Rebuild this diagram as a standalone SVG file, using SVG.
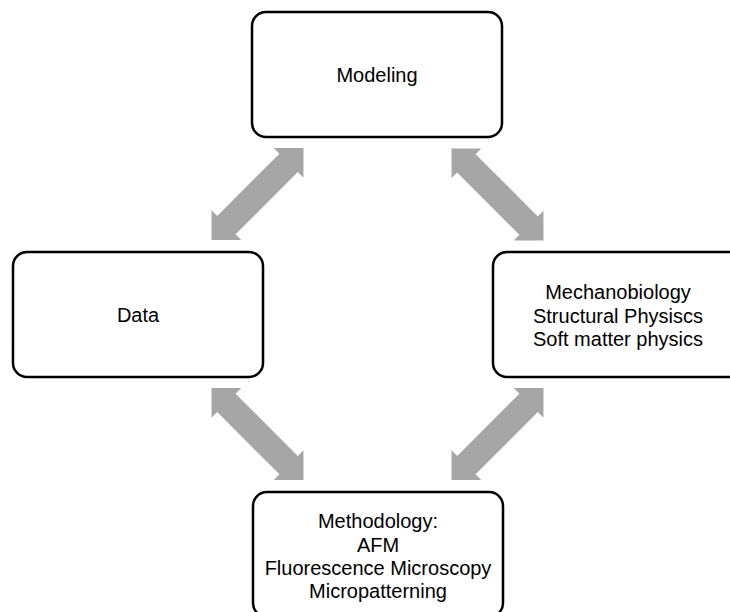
<svg xmlns="http://www.w3.org/2000/svg" xmlns:xlink="http://www.w3.org/1999/xlink" width="730" height="612" viewBox="0 0 730 612">
  <style>
    .box { fill: #ffffff; stroke: #000000; stroke-width: 2.5; }
    .lbl { font-family: "Liberation Sans", Arial, sans-serif; font-size: 20px; fill: #000000; text-anchor: middle; }
    .arr { fill: #a6a6a6; stroke: none; }
  </style>
  <defs>
    <polygon id="dbl" class="arr" points="-65,0 -44,-21 -44,-13 44,-13 44,-21 65,0 44,21 44,13 -44,13 -44,21"/>
  </defs>
  <rect x="0" y="0" width="730" height="612" fill="#ffffff"/>
  <g id="connectors">
    <use xlink:href="#dbl" transform="translate(257.5,194) rotate(-45)"/>
    <use xlink:href="#dbl" transform="translate(497.5,194.5) rotate(45)"/>
    <use xlink:href="#dbl" transform="translate(257.5,434) rotate(45)"/>
    <use xlink:href="#dbl" transform="translate(497.5,434) rotate(-45)"/>
  </g>
  <g id="modeling">
    <rect class="box" x="252" y="12" width="250" height="125" rx="14" ry="14"/>
    <text class="lbl" x="377" y="82">Modeling</text>
  </g>
  <g id="data">
    <rect class="box" x="13" y="252" width="250" height="125" rx="14" ry="14"/>
    <text class="lbl" x="138" y="322">Data</text>
  </g>
  <g id="mechanobiology">
    <rect class="box" x="493" y="252" width="250" height="125" rx="14" ry="14"/>
    <text class="lbl" x="618" y="299">Mechanobiology</text>
    <text class="lbl" x="618" y="323">Structural Physiscs</text>
    <text class="lbl" x="618" y="346">Soft matter physics</text>
  </g>
  <g id="methodology">
    <rect class="box" x="253" y="492" width="250" height="125" rx="14" ry="14"/>
    <text class="lbl" x="378" y="528">Methodology:</text>
    <text class="lbl" x="378" y="552">AFM</text>
    <text class="lbl" x="378" y="575">Fluorescence Microscopy</text>
    <text class="lbl" x="378" y="598">Micropatterning</text>
  </g>
</svg>
